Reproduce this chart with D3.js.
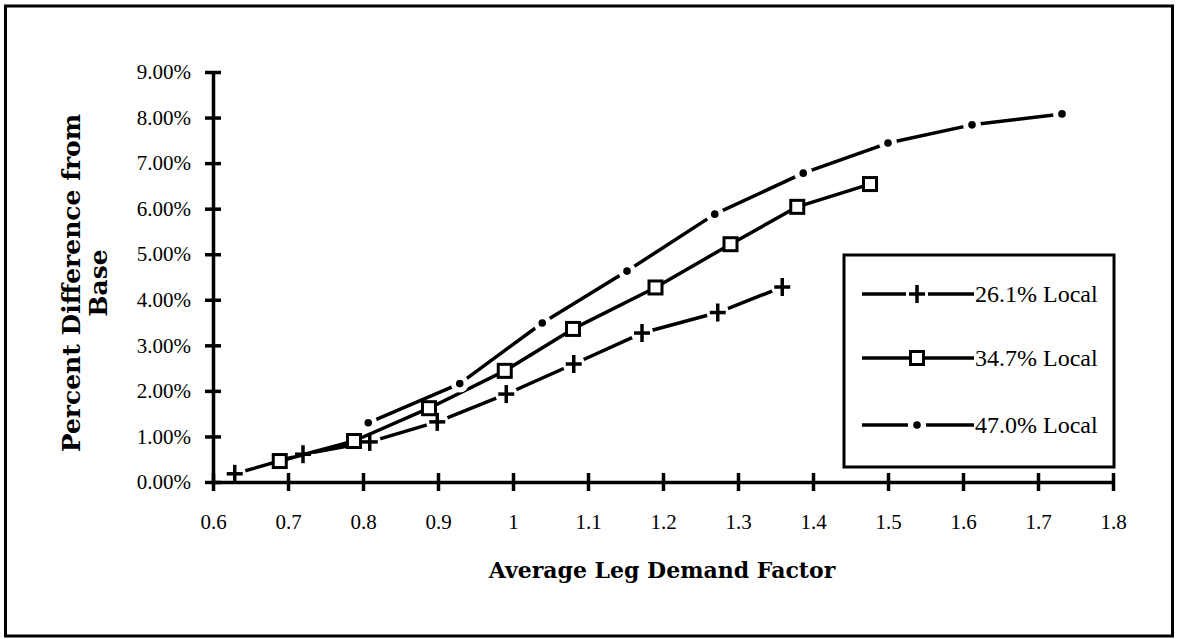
<!DOCTYPE html>
<html>
<head>
<meta charset="utf-8">
<script src="https://cdn.jsdelivr.net/npm/d3@7/dist/d3.min.js"></script>
<style>
  body { margin: 0; background: #fff; }
  svg { display: block; font-family: "Liberation Serif", "Times New Roman", serif; }
  text { fill: #000; }
</style>
</head>
<body>
<svg id="chart" width="1177" height="639"></svg>
<script>
// ---- data ----
const seriesNames = ["26.1% Local", "34.7% Local", "47.0% Local"];
const markerTypes = ["plus", "square", "dot"];

const x261 = [0.629, 0.720, 0.809, 0.899, 0.991, 1.081, 1.172, 1.273, 1.359];
const y261 = [0.0018, 0.0061, 0.0088, 0.0132, 0.0193, 0.0259, 0.0327, 0.0372, 0.0428];

const x347 = [0.689, 0.788, 0.888, 0.989, 1.080, 1.190, 1.290, 1.379, 1.476];
const y347 = [0.0046, 0.0090, 0.0162, 0.0244, 0.0336, 0.0427, 0.0522, 0.0604, 0.0654];

const x470 = [0.807, 0.929, 1.039, 1.152, 1.269, 1.387, 1.500, 1.612, 1.732];
const y470 = [0.0130, 0.0216, 0.0349, 0.0463, 0.0588, 0.0678, 0.0744, 0.0784, 0.0808];

const xTicks = [0.6, 0.7, 0.8, 0.9, 1.0, 1.1, 1.2, 1.3, 1.4, 1.5, 1.6, 1.7, 1.8];
const yTicks = [0, 0.01, 0.02, 0.03, 0.04, 0.05, 0.06, 0.07, 0.08, 0.09];

const xTitle = "Average Leg Demand Factor";
const yTitleLines = ["Percent Difference from", "Base"];

// ---- layout ----
const svg = d3.select("#chart");
const plot = { left: 213, right: 1113, top: 72, bottom: 482 };

svg.append("rect").attr("x", 5.5).attr("y", 6).attr("width", 1167).attr("height", 630)
  .attr("fill", "none").attr("stroke", "#000").attr("stroke-width", 3);

const x = d3.scaleLinear().domain([0.6, 1.8]).range([plot.left, plot.right]);
const y = d3.scaleLinear().domain([0, 0.09]).range([plot.bottom, plot.top]);

// ---- series ----
const series = [
  { name: seriesNames[0], marker: markerTypes[0], pts: x261.map((v, i) => [v, y261[i]]) },
  { name: seriesNames[1], marker: markerTypes[1], pts: x347.map((v, i) => [v, y347[i]]) },
  { name: seriesNames[2], marker: markerTypes[2], pts: x470.map((v, i) => [v, y470[i]]) }
];

const line = d3.line().x(d => x(d[0])).y(d => y(d[1]));
const haloR = { plus: 11, square: 0, dot: 9 };

function drawMarker(g, type, cx, cy) {
  if (type === "plus") {
    g.append("line").attr("x1", cx - 8).attr("x2", cx + 8).attr("y1", cy).attr("y2", cy)
      .attr("stroke", "#000").attr("stroke-width", 3.5);
    g.append("line").attr("x1", cx).attr("x2", cx).attr("y1", cy - 9).attr("y2", cy + 9)
      .attr("stroke", "#000").attr("stroke-width", 3.5);
  } else if (type === "square") {
    g.append("rect").attr("x", cx - 6.5).attr("y", cy - 6.5).attr("width", 13).attr("height", 13)
      .attr("fill", "#fff").attr("stroke", "#000").attr("stroke-width", 3);
  } else {
    g.append("circle").attr("cx", cx).attr("cy", cy).attr("r", 3.8).attr("fill", "#000");
  }
}

series.forEach(s => {
  const g = svg.append("g");
  g.append("path").datum(s.pts).attr("d", line).attr("fill", "none")
    .attr("stroke", "#000").attr("stroke-width", 3.5).attr("stroke-linejoin", "round");
  s.pts.forEach(p => {
    if (haloR[s.marker] > 0)
      g.append("circle").attr("cx", x(p[0])).attr("cy", y(p[1])).attr("r", haloR[s.marker]).attr("fill", "#fff");
  });
  s.pts.forEach(p => drawMarker(g, s.marker, x(p[0]), y(p[1])));
});

// ---- axes (drawn over the series) ----
const xAxis = d3.axisBottom(x).tickValues(xTicks)
  .tickFormat(d => d3.format("")(+d.toFixed(1))).tickSize(0);
const gx = svg.append("g").attr("transform", `translate(0,${plot.bottom})`).call(xAxis);
gx.attr("font-family", null).attr("font-size", null);
gx.select(".domain").attr("stroke-width", 3.5);
gx.selectAll(".tick line").attr("y1", -9).attr("y2", 9).attr("stroke-width", 3.5);
gx.selectAll(".tick text").style("font-size", "21px").attr("y", 47).attr("dy", 0);

const yAxis = d3.axisLeft(y).tickValues(yTicks).tickFormat(d3.format(".2%")).tickSize(0);
const gy = svg.append("g").attr("transform", `translate(${plot.left},0)`).call(yAxis);
gy.attr("font-family", null).attr("font-size", null);
gy.select(".domain").attr("stroke-width", 3.5);
gy.selectAll(".tick line").attr("x1", -8).attr("x2", 8).attr("stroke-width", 3.5);
gy.selectAll(".tick text").style("font-size", "21px").attr("x", -22);

// titles
svg.append("text").attr("x", 662).attr("y", 578).attr("text-anchor", "middle")
  .style("font-family", "'DejaVu Serif', serif").style("font-size", "22px")
  .style("font-weight", "bold").text(xTitle);

const yt = svg.append("text").attr("transform", "translate(80,283) rotate(-90)")
  .attr("text-anchor", "middle")
  .style("font-family", "'DejaVu Serif', serif").style("font-size", "25px")
  .style("font-weight", "bold");
yt.append("tspan").attr("x", 0).attr("y", 0).text(yTitleLines[0]);
yt.append("tspan").attr("x", 0).attr("y", 27).text(yTitleLines[1]);

// ---- legend ----
const lg = svg.append("g");
lg.append("rect").attr("x", 844).attr("y", 255).attr("width", 270).attr("height", 212)
  .attr("fill", "#fff").attr("stroke", "#000").attr("stroke-width", 3);
const rowY = [294, 358, 425];
series.forEach((s, i) => {
  const ry = rowY[i];
  lg.append("line").attr("x1", 862).attr("x2", 974).attr("y1", ry).attr("y2", ry)
    .attr("stroke", "#000").attr("stroke-width", 3.5);
  if (haloR[s.marker] > 0)
    lg.append("rect").attr("x", 917 - (s.marker === "plus" ? 11 : 9)).attr("y", ry - 4)
      .attr("width", (s.marker === "plus" ? 22 : 18)).attr("height", 8).attr("fill", "#fff");
  drawMarker(lg, s.marker, 917, ry);
  lg.append("text").attr("x", 975).attr("y", ry + 8).style("font-size", "24px").text(s.name);
});
</script>
</body>
</html>
